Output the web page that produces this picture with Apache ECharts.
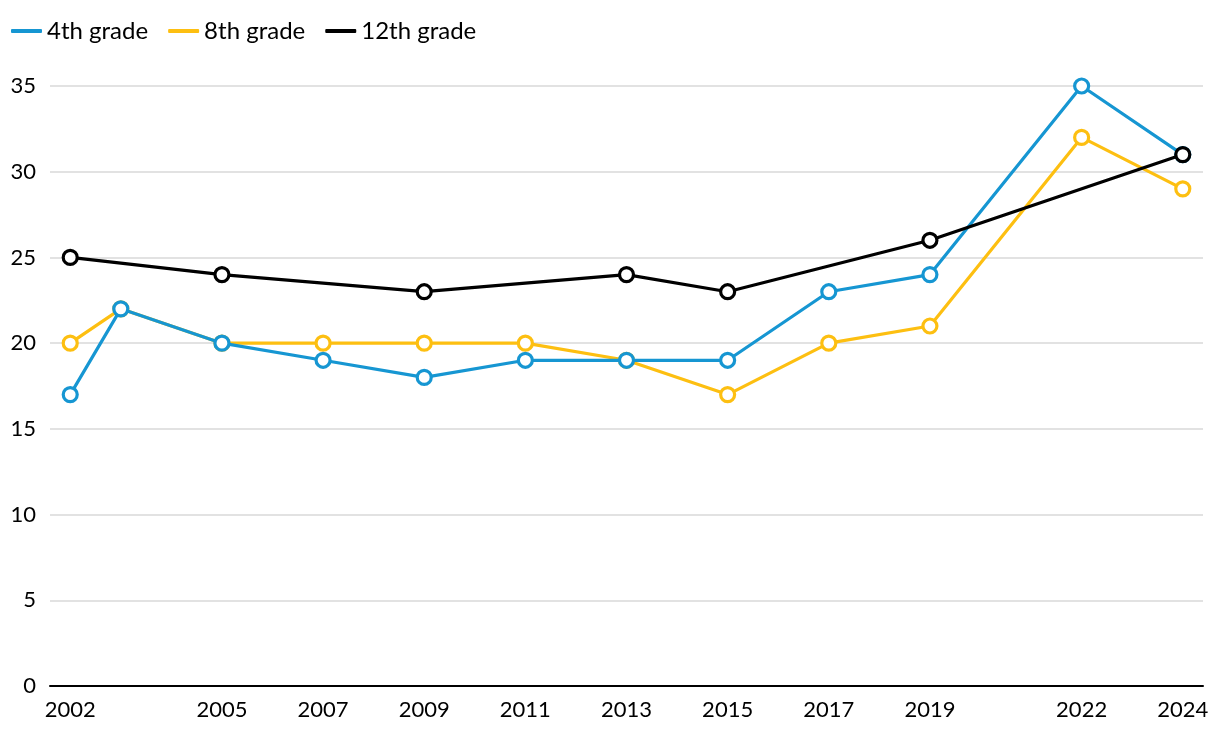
<!DOCTYPE html>
<html><head><meta charset="utf-8">
<script src="https://cdn.jsdelivr.net/npm/echarts@6/dist/echarts.min.js"></script>
<style>html,body{margin:0;padding:0;background:#fff}#c{width:1220px;height:738px}</style>
</head><body><div id="c"></div>
<script>
const seriesNames = ['4th grade', '8th grade', '12th grade'];
const years4 = [2002, 2003, 2005, 2007, 2009, 2011, 2013, 2015, 2017, 2019, 2022, 2024];
const values4 = [17, 22, 20, 19, 18, 19, 19, 19, 23, 24, 35, 31];
const years8 = [2002, 2003, 2005, 2007, 2009, 2011, 2013, 2015, 2017, 2019, 2022, 2024];
const values8 = [20, 22, 20, 20, 20, 20, 19, 17, 20, 21, 32, 29];
const years12 = [2002, 2005, 2009, 2013, 2015, 2019, 2024];
const values12 = [25, 24, 23, 24, 23, 26, 31];
const xTickLabels = [2002, 2005, 2007, 2009, 2011, 2013, 2015, 2017, 2019, 2022, 2024];
const colors = ['#1696d2', '#fdbf11', '#000000'];

const font = 'Lato, "Noto Sans", sans-serif';
function mk(name, xs, ys, color, z) {
  return {
    name, type: 'line', z,
    data: xs.map((x, i) => [x, ys[i]]),
    lineStyle: { color, width: 3.2 },
    itemStyle: { color: '#fff', borderColor: color, borderWidth: 3.2 },
    symbol: 'circle', symbolSize: 14, showSymbol: true,
    emphasis: { disabled: true }, animation: false
  };
}
const chart = echarts.init(document.getElementById('c'));
chart.setOption({
  animation: false,
  color: colors,
  legend: {
    left: 6, top: 14, itemWidth: 31, itemHeight: 4, itemGap: 20,
    icon: 'roundRect',
    textStyle: { fontFamily: font, fontSize: 24, color: '#000' },
    data: seriesNames.map((n, i) => ({ name: n, itemStyle: { color: colors[i], borderWidth: 0 }, lineStyle: { width: 0 } }))
  },
  grid: { left: 50, right: 17, top: 86, bottom: 52, containLabel: false },
  xAxis: {
    type: 'value', min: 2001.6, max: 2024.4,
    axisLine: { show: true, lineStyle: { color: '#000', width: 2 } },
    axisTick: { show: false },
    splitLine: { show: false },
    axisLabel: {
      customValues: xTickLabels, showMinLabel: true, showMaxLabel: true,
      fontFamily: font, fontSize: 22, color: '#000', margin: 13,
      formatter: v => String(v)
    }
  },
  yAxis: {
    type: 'value', min: 0, max: 35, interval: 5,
    axisLine: { show: false }, axisTick: { show: false },
    splitLine: { lineStyle: { color: '#d9d9d9', width: 1.5 } },
    axisLabel: { fontFamily: font, fontSize: 22, color: '#000', margin: 14 }
  },
  series: [
    mk(seriesNames[0], years4, values4, colors[0], 3),
    mk(seriesNames[1], years8, values8, colors[1], 2),
    mk(seriesNames[2], years12, values12, colors[2], 4)
  ]
});
</script></body></html>
